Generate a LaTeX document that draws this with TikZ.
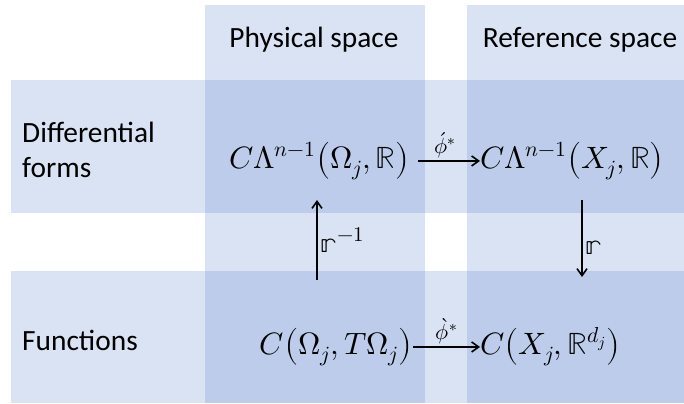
\documentclass[tikz,border=0pt]{standalone}
\usepackage{fontspec}
\usepackage{unicode-math}
\setmainfont{Carlito}
\setmathfont{Latin Modern Math}
\usetikzlibrary{arrows.meta, positioning}
\definecolor{BandBlue}{HTML}{4472C4}
\tikzset{
    % Shaded band, darker where two bands cross
    band/.style={
        fill=BandBlue,
        fill opacity=0.2,
        draw=none
    },
    % Column heading
    header/.style={
        inner sep=0pt,
        font=\fontsize{29.5}{34}\selectfont
    },
    % Row heading
    rowlabel/.style={
        anchor=west,
        inner sep=0pt,
        align=left,
        font=\fontsize{29.5}{35}\selectfont
    },
    % Function space
    fspace/.style={
        inner sep=0pt,
        font=\fontsize{31}{36}\selectfont
    },
    % Map label
    maplabel/.style={
        inner sep=1pt,
        font=\fontsize{30}{35}\selectfont
    },
    % Small map label
    pullback/.style={
        inner sep=1pt,
        font=\fontsize{22}{26}\selectfont
    },
    % Arrow style
    arrow/.style={
        -{Straight Barb[length=7bp, width=10bp]},
        line width=1.6bp,
        color=black
    }
}

\begin{document}
\begin{tikzpicture}[x=1bp, y=-1bp]
    \useasboundingbox (0,0) rectangle (684,403);

    % Bands
    \fill [band] (11,80) rectangle (684,213);
    \fill [band] (11,271) rectangle (684,403);
    \fill [band] (205,5) rectangle (425,403);
    \fill [band] (467,5) rectangle (684,403);

    % Headings
    \node (phys) [header] at (314,40) {Physical space};
    \node (ref) [header] at (580,40) {Reference space};
    \node (forms) [rowlabel] at (22,150) {Differential\\forms};
    \node (funcs) [rowlabel] at (22,340) {Functions};

    % Spaces
    \node (tl) [fspace, anchor=base east] at (410,168) {$C\Lambda^{n-1}\mathord{\left(\Omega_j,\symbb{R}\right)}$};
    \node (tr) [fspace, anchor=base west] at (480,168) {$C\Lambda^{n-1}\mathord{\left(X_j,\symbb{R}\right)}$};
    \node (bl) [fspace, anchor=base east] at (413,354) {$C\mathord{\left(\Omega_j,T\Omega_j\right)}$};
    \node (br) [fspace, anchor=base west] at (480,354) {$C\mathord{\left(X_j,\symbb{R}^{d_j}\right)}$};

    % Maps
    \draw [arrow, shorten <=8bp] (tl.east) -- (tl.east -| tr.west)
        node (pullf) [midway, above=1bp, pullback] {$\acute{\phi}^*$};
    \draw [arrow] (bl.east) -- (bl.east -| br.west)
        node (pullv) [midway, above=1bp, pullback] {$\grave{\phi}^*$};

    \coordinate (rinvtail) at (317,280);
    \coordinate (rinvtip) at (317,200);
    \coordinate (rtail) at (582,200);
    \coordinate (rtip) at (582,277);
    \draw [arrow] (rinvtail) -- (rinvtip)
        node (rinv) [midway, right=2bp, maplabel] {$\symbb{r}^{-1}$};
    \draw [arrow] (rtail) -- (rtip)
        node (r) [pos=0.62, right=2bp, maplabel] {$\symbb{r}$};
\end{tikzpicture}
\end{document}
